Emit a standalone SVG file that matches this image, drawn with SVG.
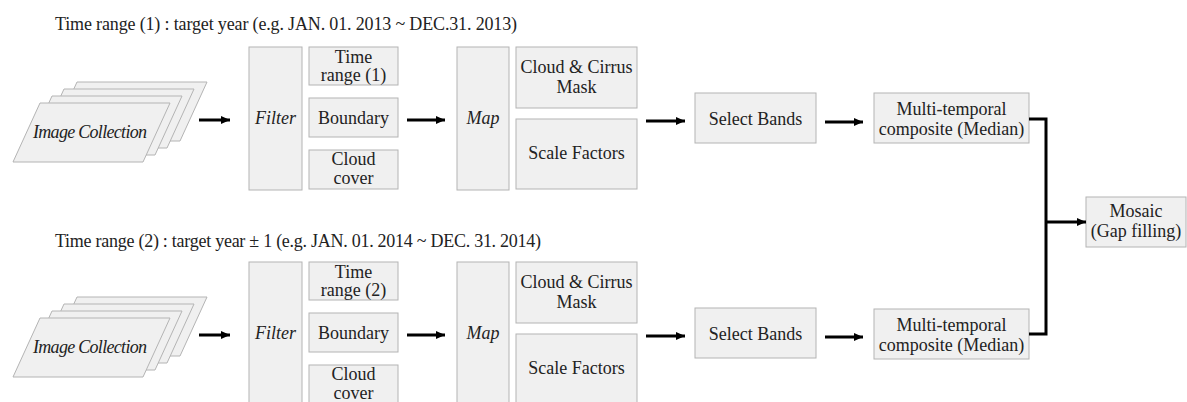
<svg xmlns="http://www.w3.org/2000/svg" width="1187" height="402" viewBox="0 0 1187 402">
<style>
.bx{fill:#f0f0f0;stroke:#b4b4b4;stroke-width:1}
.t{text-anchor:middle}
.i{font-style:italic}
.ar{stroke:#000;stroke-width:3;fill:none;marker-end:url(#ah)}
.ln{stroke:#000;stroke-width:3;fill:none}
</style>
<defs>
<marker id="ah" markerUnits="userSpaceOnUse" markerWidth="10" markerHeight="10" refX="9" refY="5" orient="auto">
<path d="M0,1 L9,5 L0,9 Z" fill="#000"/>
</marker>
<path id="pg" d="M40,103 L170,103 L143,162 L13,162 Z"/>
</defs>
<rect width="1187" height="402" fill="#fff"/>

<g font-family="Liberation Serif, DejaVu Serif, serif" font-size="18" fill="#222">
<text x="55" y="30" textLength="462">Time range (1) : target year (e.g.  JAN. 01. 2013 ~ DEC.31. 2013)</text>
<text x="55" y="247" textLength="486">Time range (2) : target year ± 1 (e.g. JAN. 01. 2014 ~ DEC. 31. 2014)</text>

<!-- Row 1 -->
<g id="imgcol1">
<use href="#pg" class="bx" transform="translate(37,-21)"/>
<use href="#pg" class="bx" transform="translate(24,-14)"/>
<use href="#pg" class="bx" transform="translate(12,-7)"/>
<use href="#pg" class="bx"/>
<text class="t i" x="90" y="138" textLength="114">Image Collection</text>
</g>
<g id="filter1"><rect class="bx" x="249" y="47" width="53" height="143"/><text class="t i" x="275.5" y="124">Filter</text></g>
<g id="timerange1"><rect class="bx" x="309" y="47" width="89" height="38"/><text class="t" x="353.5" y="63">Time</text><text class="t" x="353.5" y="81">range (1)</text></g>
<g id="boundary1"><rect class="bx" x="309" y="98" width="89" height="39"/><text class="t" x="353.5" y="124">Boundary</text></g>
<g id="cloudcover1"><rect class="bx" x="309" y="150" width="89" height="39"/><text class="t" x="353.5" y="165">Cloud</text><text class="t" x="353.5" y="184">cover</text></g>
<g id="map1"><rect class="bx" x="457" y="47" width="52" height="143"/><text class="t i" x="483" y="124">Map</text></g>
<g id="mask1"><rect class="bx" x="516" y="47" width="121" height="61"/><text class="t" x="576.5" y="73">Cloud &amp; Cirrus</text><text class="t" x="576.5" y="93">Mask</text></g>
<g id="scale1"><rect class="bx" x="516" y="119" width="121" height="70"/><text class="t" x="576.5" y="159">Scale Factors</text></g>
<g id="select1"><rect class="bx" x="695" y="93" width="121" height="50"/><text class="t" x="755.5" y="125">Select Bands</text></g>
<g id="composite1"><rect class="bx" x="874" y="93" width="155" height="50"/><text class="t" x="951.5" y="115">Multi-temporal</text><text class="t" x="951.5" y="135">composite (Median)</text></g>

<!-- Mosaic -->
<g id="mosaic"><rect class="bx" x="1086" y="197" width="100" height="50"/><text class="t" x="1136" y="217">Mosaic</text><text class="t" x="1136" y="237">(Gap filling)</text></g>

<!-- Row 2 -->
<g id="imgcol2" transform="translate(0,215)">
<use href="#pg" class="bx" transform="translate(37,-21)"/>
<use href="#pg" class="bx" transform="translate(24,-14)"/>
<use href="#pg" class="bx" transform="translate(12,-7)"/>
<use href="#pg" class="bx"/>
<text class="t i" x="90" y="138" textLength="114">Image Collection</text>
</g>
<g id="filter2"><rect class="bx" x="249" y="262" width="53" height="143"/><text class="t i" x="275.5" y="339">Filter</text></g>
<g id="timerange2"><rect class="bx" x="309" y="262" width="89" height="38"/><text class="t" x="353.5" y="278">Time</text><text class="t" x="353.5" y="296">range (2)</text></g>
<g id="boundary2"><rect class="bx" x="309" y="313" width="89" height="39"/><text class="t" x="353.5" y="339">Boundary</text></g>
<g id="cloudcover2"><rect class="bx" x="309" y="365" width="89" height="39"/><text class="t" x="353.5" y="380">Cloud</text><text class="t" x="353.5" y="399">cover</text></g>
<g id="map2"><rect class="bx" x="457" y="262" width="52" height="143"/><text class="t i" x="483" y="339">Map</text></g>
<g id="mask2"><rect class="bx" x="516" y="262" width="121" height="61"/><text class="t" x="576.5" y="288">Cloud &amp; Cirrus</text><text class="t" x="576.5" y="308">Mask</text></g>
<g id="scale2"><rect class="bx" x="516" y="334" width="121" height="70"/><text class="t" x="576.5" y="374">Scale Factors</text></g>
<g id="select2"><rect class="bx" x="695" y="308" width="121" height="50"/><text class="t" x="755.5" y="340">Select Bands</text></g>
<g id="composite2"><rect class="bx" x="874" y="309" width="155" height="50"/><text class="t" x="951.5" y="331">Multi-temporal</text><text class="t" x="951.5" y="351">composite (Median)</text></g>
</g>

<g id="connectors">
<line class="ar" x1="199" y1="120" x2="230" y2="120"/>
<line class="ar" x1="407" y1="120" x2="445" y2="120"/>
<line class="ar" x1="646" y1="121" x2="685" y2="121"/>
<line class="ar" x1="825" y1="122" x2="863" y2="122"/>
<line class="ar" x1="199" y1="335" x2="230" y2="335"/>
<line class="ar" x1="407" y1="335" x2="445" y2="335"/>
<line class="ar" x1="646" y1="336" x2="685" y2="336"/>
<line class="ar" x1="825" y1="337" x2="863" y2="337"/>
<path class="ln" d="M1029,119 H1046 V334 H1029"/>
<line class="ar" x1="1046" y1="222" x2="1086" y2="222"/>
</g>
</svg>
